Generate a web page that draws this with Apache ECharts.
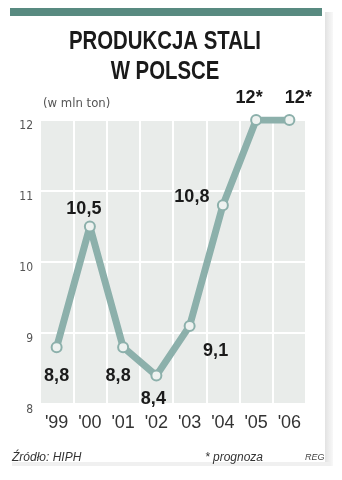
<!DOCTYPE html>
<html><head><meta charset="utf-8">
<script src="https://cdn.jsdelivr.net/npm/echarts@6/dist/echarts.min.js"></script>
<style>html,body{margin:0;padding:0;background:#fff;}#c{width:342px;height:480px;}</style>
</head><body><div id="c"></div>
<script>
var years = ["'99","'00","'01","'02","'03","'04","'05","'06"];
var values = [8.8, 10.5, 8.8, 8.4, 9.1, 10.8, 12, 12];
var valueLabels = ["8,8","10,5","8,8","8,4","9,1","10,8","12*","12*"];
var yTicks = [8, 9, 10, 11, 12];

var labelPos = [
  {position:'bottom', offset:[0,6]},
  {position:'top', offset:[-6,6]},
  {position:'bottom', offset:[-5,6]},
  {position:'bottom', offset:[-3,0]},
  {position:'bottom', offset:[26,2]},
  {position:'top', offset:[-31,15]},
  {position:'top', offset:[-7,1]},
  {position:'top', offset:[9,1]}
];

var narrow = '"DejaVu Sans Condensed",Arial,sans-serif';
var sans = '"Liberation Sans",Arial,sans-serif';
var chart = echarts.init(document.getElementById('c'), null, {renderer:'canvas'});
chart.setOption({
  animation:false,
  backgroundColor:'#ffffff',
  graphic:[
    {type:'rect', shape:{x:325,y:12,width:8,height:454}, style:{fill:new echarts.graphic.LinearGradient(0,0,1,0,[{offset:0,color:'#e2e2e2'},{offset:1,color:'#f8f8f8'}])}, z:-10},
    {type:'rect', shape:{x:12,y:462,width:318,height:4}, style:{fill:'#f0f0f0'}, z:-10},
    {type:'rect', shape:{x:8,y:8,width:317,height:454}, style:{fill:'#ffffff'}, z:-9},
    {type:'rect', shape:{x:10,y:8,width:312,height:8}, style:{fill:'#588a80'}, z:-8},
    {type:'text', x:165, y:30, scaleX:0.815, style:{text:'PRODUKCJA STALI', font:'bold 25px '+sans, fill:'#1a1a1a', textAlign:'center'}},
    {type:'text', x:165, y:60, scaleX:0.815, style:{text:'W POLSCE', font:'bold 25px '+sans, fill:'#1a1a1a', textAlign:'center'}},
    {type:'text', left:43, top:97, style:{text:'(w mln ton)', font:'13px '+narrow, fill:'#555'}},
    {type:'text', left:12, top:452, style:{text:'Źródło: HIPH', font:'italic 12px '+sans, fill:'#333'}},
    {type:'text', left:205, top:452, style:{text:'* prognoza', font:'italic 12px '+sans, fill:'#333'}},
    {type:'text', left:305, top:453, style:{text:'REG', font:'italic 9px '+sans, fill:'#444'}}
  ],
  grid:{left:40, right:36, top:120, bottom:76, show:true, backgroundColor:'#e9ecea', borderWidth:0},
  xAxis:{
    type:'category', data:years, boundaryGap:true,
    axisLine:{show:false}, axisTick:{show:false},
    axisLabel:{color:'#333', fontSize:18, margin:10, fontFamily:sans},
    splitLine:{show:true, lineStyle:{color:'#ffffff', width:2}}
  },
  yAxis:{
    type:'value', min:8, max:12, interval:1,
    axisLine:{show:false}, axisTick:{show:false},
    axisLabel:{color:'#555', fontSize:12, margin:7, fontFamily:narrow, verticalAlign:'top',
      formatter:function(v){return yTicks.indexOf(v)>=0 ? String(v) : '';}},
    splitLine:{show:true, lineStyle:{color:'#ffffff', width:2}}
  },
  series:[{
    type:'line', z:5,
    data: values.map(function(v,i){
      return {value:v, label:{show:true, formatter:valueLabels[i], position:labelPos[i].position, offset:labelPos[i].offset}};
    }),
    lineStyle:{color:'#8cb0ab', width:7},
    symbol:'circle', symbolSize:10,
    itemStyle:{color:'#eef2f0', borderColor:'#8cb0ab', borderWidth:2},
    label:{show:true, color:'#1a1a1a', fontSize:18, fontWeight:'bold', fontFamily:sans, distance:8}
  }]
});
</script></body></html>
